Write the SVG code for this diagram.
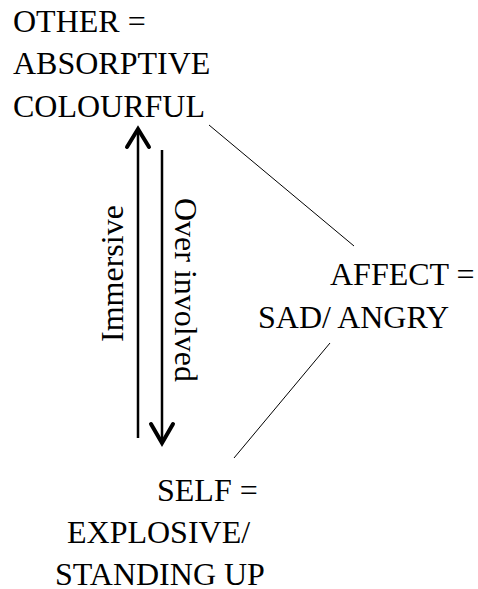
<svg xmlns="http://www.w3.org/2000/svg" width="478" height="589" viewBox="0 0 478 589">
  <style>
    text { font-family: "Liberation Serif", "Times New Roman", serif; font-size: 32px; fill: #000; }
    .link { stroke: #000; stroke-width: 1; fill: none; }
    .shaft { stroke: #000; stroke-width: 2.5; fill: none; }
    .head { stroke: #000; stroke-width: 4; fill: none; stroke-linecap: round; stroke-linejoin: miter; }
  </style>
  <rect width="478" height="589" fill="#fff"/>

  <g id="connectors">
    <line class="link" x1="209" y1="125" x2="354" y2="246"/>
    <line class="link" x1="330" y1="343" x2="234" y2="458"/>
    <!-- upward arrow: Immersive -->
    <line class="shaft" x1="138" y1="130" x2="138" y2="438"/>
    <polyline class="head" points="127,147 138,129 149,147"/>
    <!-- downward arrow: Over involved -->
    <line class="shaft" x1="162" y1="150" x2="162" y2="442"/>
    <polyline class="head" points="151,424 162,443 173,424"/>
  </g>

  <g id="other">
    <text x="13" y="32">OTHER =</text>
    <text x="13" y="74">ABSORPTIVE</text>
    <text x="13" y="117">COLOURFUL</text>
  </g>

  <g id="affect">
    <text x="330" y="285">AFFECT =</text>
    <text x="258" y="328">SAD/ ANGRY</text>
  </g>

  <g id="self">
    <text x="157" y="501">SELF =</text>
    <text x="67" y="543">EXPLOSIVE/</text>
    <text x="55" y="585">STANDING UP</text>
  </g>

  <g id="immersive">
    <text transform="translate(123,342) rotate(-90)">Immersive</text>
  </g>

  <g id="over-involved">
    <text transform="translate(175,198) rotate(90)">Over involved</text>
  </g>
</svg>
